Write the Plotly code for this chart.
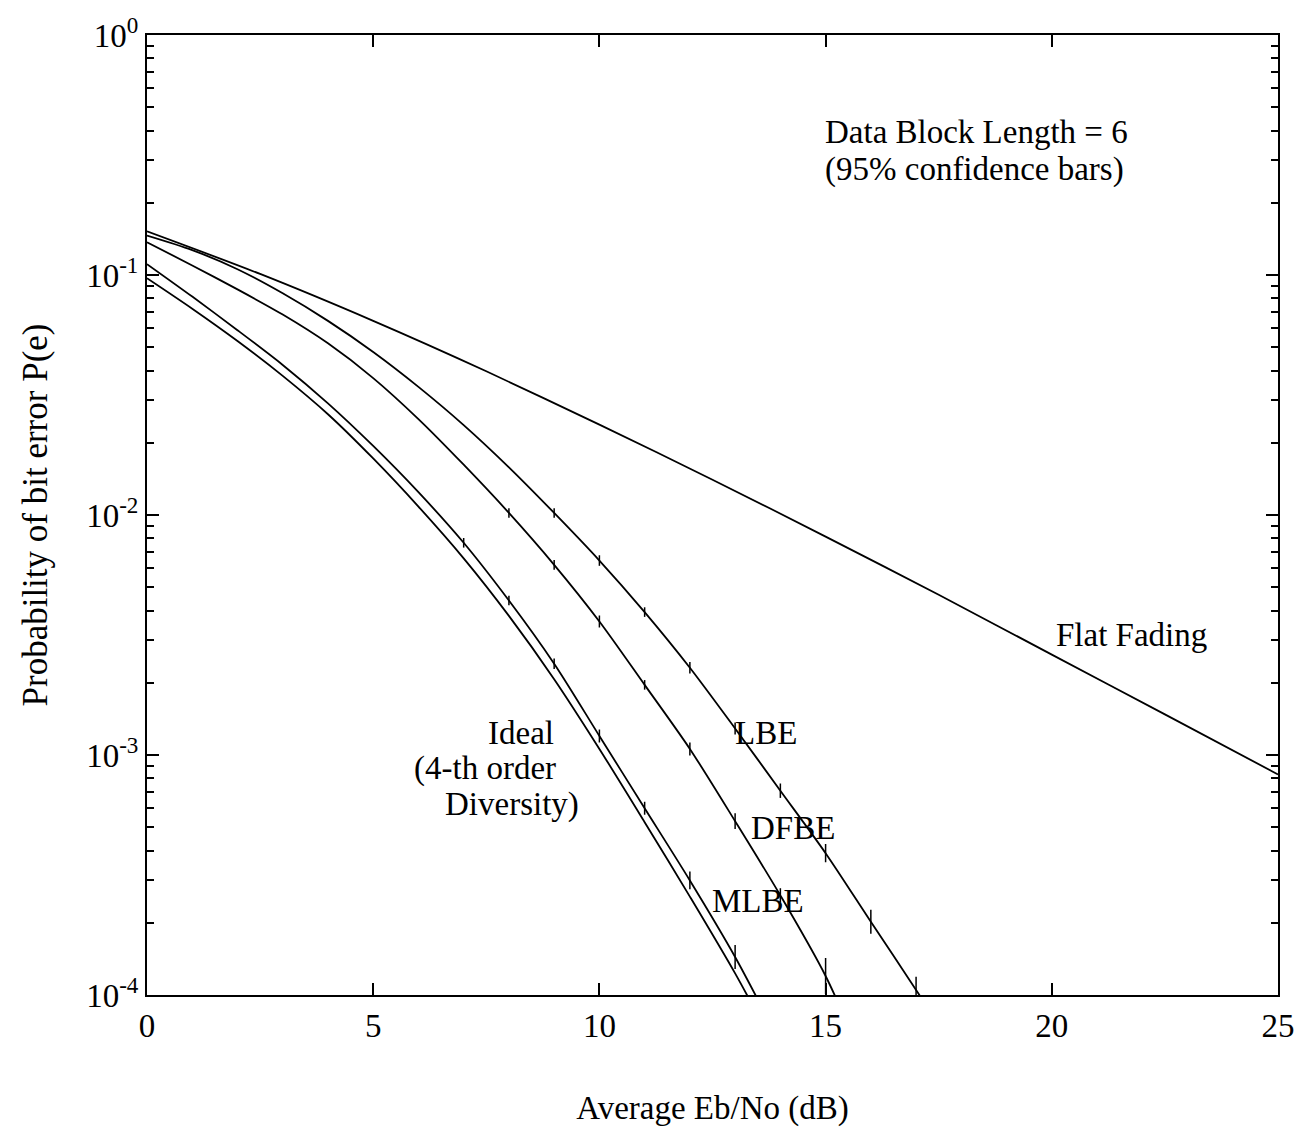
import plotly.graph_objects as go

# Average Eb/No (dB) and bit error probabilities for each receiver
ff_x = [0, 2.5, 5, 7.5, 10, 12.5, 15, 17.5, 20, 22.5, 25]
ff_y = [0.152, 0.101, 0.0644, 0.0397, 0.0238, 0.01403, 0.00813, 0.00465, 0.00262, 0.001476, 0.00083]

lbe_x = [0, 1, 2, 3, 4, 5, 6, 7, 8, 9, 10, 11, 12, 13, 14, 15, 16, 17, 18]
lbe_y = [0.146, 0.127, 0.1057, 0.0839, 0.0644, 0.0478, 0.0342, 0.0237, 0.0158, 0.0102, 0.00646,
         0.00394, 0.00231, 0.00129, 0.00071, 0.00039, 0.000202, 0.000105, 0.000054]

dfbe_x = [0, 1, 2, 3, 4, 5, 6, 7, 8, 9, 10, 11, 12, 13, 14, 15, 16]
dfbe_y = [0.137, 0.1096, 0.0871, 0.0684, 0.0519, 0.0372, 0.0251, 0.0162, 0.0102, 0.0062, 0.0036,
          0.00196, 0.00106, 0.00053, 0.00026, 0.00012, 0.000045]

mlbe_x = [0, 1, 2, 3, 4, 5, 6, 7, 8, 9, 10, 11, 12, 13, 14]
mlbe_y = [0.111, 0.0813, 0.0589, 0.0422, 0.0292, 0.0194, 0.01245, 0.00766, 0.0044, 0.0024, 0.0012,
          0.0006, 0.0003, 0.000144, 0.000063]

ideal_x = [0, 1, 2, 3, 4, 5, 6, 7, 8, 9, 10, 11, 12, 13, 14]
ideal_y = [0.097, 0.0724, 0.0531, 0.038, 0.0263, 0.0172, 0.01084, 0.0066, 0.0038, 0.00207, 0.00106,
           0.000525, 0.000257, 0.000123, 0.000055]

# 95% confidence bars: half-length in decades at simulated points
lbe_ci_x = [9, 10, 11, 12, 13, 14, 15, 16, 17]
lbe_ci = [0.02, 0.022, 0.02, 0.024, 0.025, 0.03, 0.038, 0.05, 0.055]
dfbe_ci_x = [8, 9, 10, 11, 12, 13, 14, 15]
dfbe_ci = [0.02, 0.02, 0.025, 0.02, 0.027, 0.033, 0.03, 0.075]
mlbe_ci_x = [7, 8, 9, 10, 11, 12, 13]
mlbe_ci = [0.02, 0.02, 0.022, 0.027, 0.027, 0.037, 0.05]

y_tick_vals = [1, 0.1, 0.01, 0.001, 0.0001]
y_tick_text = ["10<sup>0</sup>", "10<sup>-1</sup>", "10<sup>-2</sup>", "10<sup>-3</sup>", "10<sup>-4</sup>"]
x_tick_vals = [0, 5, 10, 15, 20, 25]

FONT = "Liberation Serif, Times New Roman, serif"
LINE = dict(color="black", width=1.8, shape="spline", smoothing=0.8)

fig = go.Figure()

for xs, ys in [(ff_x, ff_y), (lbe_x, lbe_y), (dfbe_x, dfbe_y), (mlbe_x, mlbe_y), (ideal_x, ideal_y)]:
    fig.add_trace(go.Scatter(x=xs, y=ys, mode="lines", line=LINE, showlegend=False, hoverinfo="skip"))


def bars(cx, ci, sx, sy):
    vals = [sy[sx.index(x)] for x in cx]
    up = [v * (10 ** h - 1) for v, h in zip(vals, ci)]
    dn = [v * (1 - 10 ** -h) for v, h in zip(vals, ci)]
    return go.Scatter(
        x=cx, y=vals, mode="markers", marker=dict(size=0.1, color="black"),
        error_y=dict(type="data", array=up, arrayminus=dn, symmetric=False,
                     color="black", thickness=1.5, width=0),
        showlegend=False, hoverinfo="skip",
    )


fig.add_trace(bars(lbe_ci_x, lbe_ci, lbe_x, lbe_y))
fig.add_trace(bars(dfbe_ci_x, dfbe_ci, dfbe_x, dfbe_y))
fig.add_trace(bars(mlbe_ci_x, mlbe_ci, mlbe_x, mlbe_y))

# label positions: x in dB, y in log10(P)
ann_font = dict(family=FONT, size=33, color="black")
labels = [
    ("Data Block Length = 6", 14.95, -0.405),
    ("(95% confidence bars)", 14.95, -0.56),
    ("Flat Fading", 20.05, -2.5),
    ("LBE", 12.95, -2.91),
    ("DFBE", 13.3, -3.305),
    ("MLBE", 12.45, -3.61),
    ("Ideal", 7.5, -2.91),
    ("(4-th order", 5.85, -3.055),
    ("Diversity)", 6.55, -3.205),
]
for text, x, ly in labels:
    fig.add_annotation(x=x, y=ly, text=text, showarrow=False, xanchor="left", yanchor="middle",
                       font=ann_font, xref="x", yref="y")

fig.update_xaxes(
    range=[0, 25], tickvals=x_tick_vals, ticktext=[str(v) for v in x_tick_vals],
    ticks="inside", ticklen=12, tickwidth=1.5, tickcolor="black",
    showline=True, linecolor="black", linewidth=2, mirror="allticks",
    showgrid=False, zeroline=False,
    tickfont=dict(family=FONT, size=33, color="black"),
    title=dict(text="Average Eb/No (dB)", font=dict(family=FONT, size=33, color="black"), standoff=53),
)
fig.update_yaxes(
    type="log", range=[-4, 0], tickvals=y_tick_vals, ticktext=y_tick_text,
    ticks="inside", ticklen=12, tickwidth=1.5, tickcolor="black",
    minor=dict(ticks="inside", ticklen=7, tickwidth=1.5, tickcolor="black",
               tickvals=[m * 10 ** e for e in range(-4, 0) for m in range(2, 10)]),
    showline=True, linecolor="black", linewidth=2, mirror="allticks",
    showgrid=False, zeroline=False,
    tickfont=dict(family=FONT, size=33, color="black"),
    title=dict(text="Probability of bit error P(e)", font=dict(family=FONT, size=35, color="black"), standoff=28),
)

fig.update_layout(
    width=1308, height=1132,
    margin=dict(l=147, r=30, t=28, b=136),
    paper_bgcolor="white", plot_bgcolor="white",
    showlegend=False,
)

fig.write_html("out.html")
